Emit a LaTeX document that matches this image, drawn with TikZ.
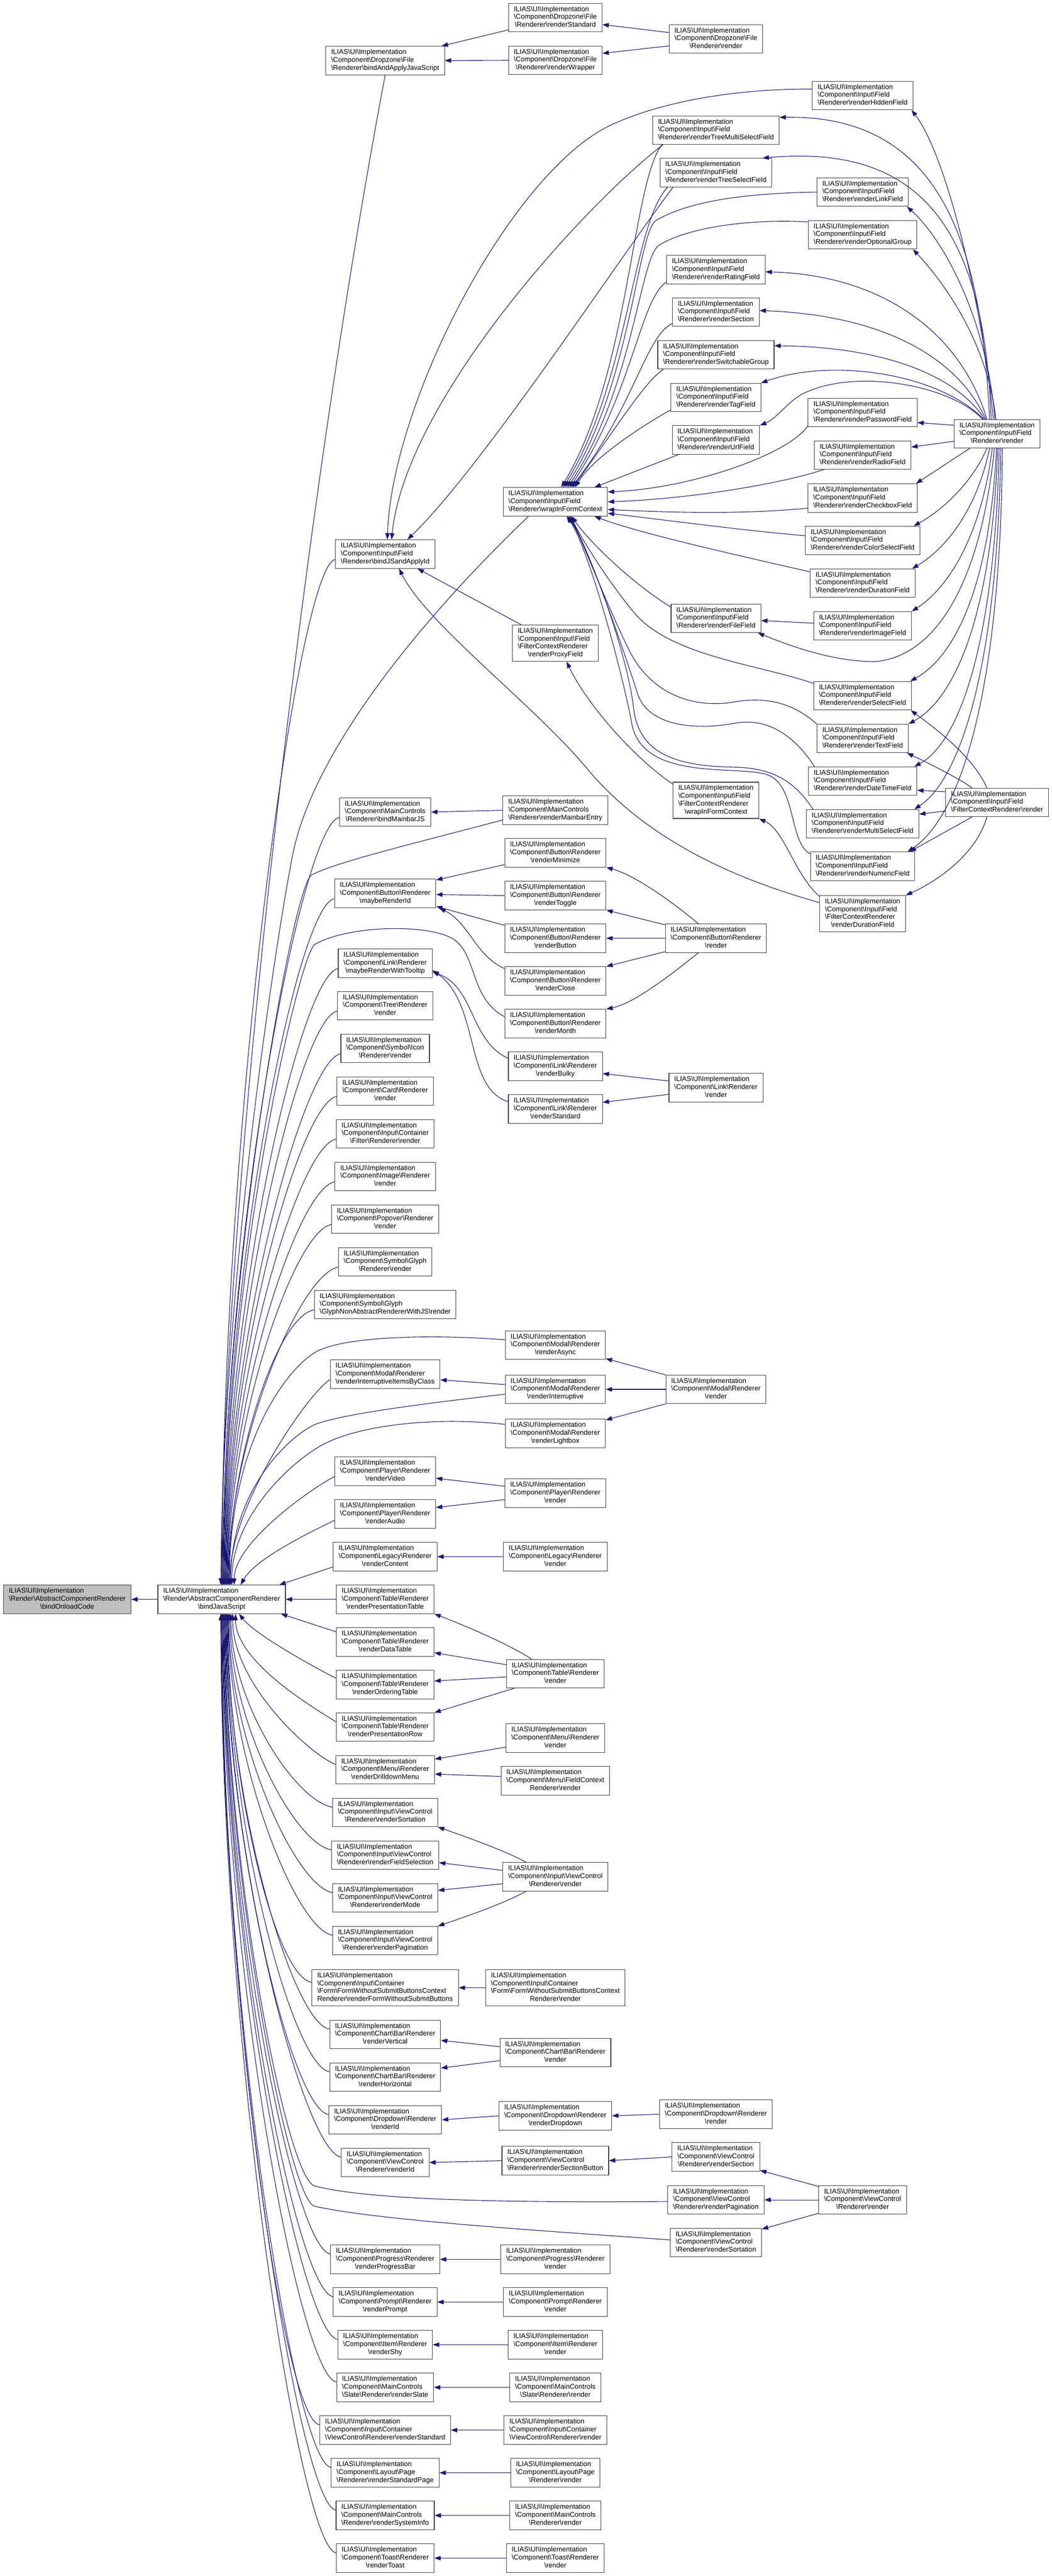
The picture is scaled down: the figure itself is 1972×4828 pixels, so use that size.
\documentclass[tikz,border=0pt]{standalone}
\usepackage{fontspec}
\setmainfont{Liberation Sans}
\usetikzlibrary{arrows.meta,calc}
\definecolor{eblue}{HTML}{191970}
\definecolor{nbord}{HTML}{404040}
\definecolor{rootfill}{HTML}{BFBFBF}
\newcommand\Q{\textbackslash}
\newcommand\IL{ILIAS\Q UI\Q Implementation}
\newcommand\lb[2]{\begin{tabular}{@{}l@{}}#1\\\multicolumn{1}{@{}c@{}}{#2}\end{tabular}}
\tikzset{
 box/.style={draw=nbord, line width=1.1pt, fill=white, inner xsep=10pt, inner ysep=4.6pt, font=\fontsize{13}{14.7}\selectfont},
 rootbox/.style={box, fill=rootfill},
 edge/.style={draw=eblue, line width=1.1pt, -{Triangle[length=12pt,width=8.5pt]}},
}
\newcommand\fanU[3]{\draw[edge] ($(#1.west)+(0,-10)$) .. controls ($(#1.west)+(-70,-22)$) and ($(bjs.north)+(#2,#3)$) .. ($(bjs.north)+(#2,0)$);}
\newcommand\fanD[3]{\draw[edge] ($(#1.west)+(0,10)$) .. controls ($(#1.west)+(-70,22)$) and ($(bjs.south)+(#2,-#3)$) .. ($(bjs.south)+(#2,0)$);}
\begin{document}
\begin{tikzpicture}[x=1pt,y=1pt]
\fill[white] (0,0) rectangle (1972,-4828);
\useasboundingbox (0,0) rectangle (1972,-4828);
% ---------- column 0 / 1
\node[rootbox] (root) at (126,-2997.5) {\lb{\IL\\\Q Render\Q AbstractComponentRenderer}{\Q bindOnloadCode}};
\node[box] (bjs) at (415.5,-2997.5) {\lb{\IL\\\Q Render\Q AbstractComponentRenderer}{\Q bindJavaScript}};
% ---------- column 2
\node[box] (n01) at (722,-113.5) {\lb{\IL\\\Q Component\Q Dropzone\Q File}{\Q Renderer\Q bindAndApplyJavaScript}};
\node[box] (n02) at (722,-1038.5) {\lb{\IL\\\Q Component\Q Input\Q Field}{\Q Renderer\Q bindJSandApplyId}};
\node[box] (n03) at (722,-1522) {\lb{\IL\\\Q Component\Q MainControls}{\Q Renderer\Q bindMainbarJS}};
\node[box] (n04) at (722,-1674.5) {\lb{\IL\\\Q Component\Q Button\Q Renderer}{\Q maybeRenderId}};
\node[box] (n05) at (722,-1805.5) {\lb{\IL\\\Q Component\Q Link\Q Renderer}{\Q maybeRenderWithTooltip}};
\node[box] (n06) at (722,-1885) {\lb{\IL\\\Q Component\Q Tree\Q Renderer}{\Q render}};
\node[box] (n07) at (722,-1965) {\lb{\IL\\\Q Component\Q Symbol\Q Icon}{\Q Renderer\Q render}};
\node[box] (n08) at (722,-2045) {\lb{\IL\\\Q Component\Q Card\Q Renderer}{\Q render}};
\node[box] (n09) at (722,-2125) {\lb{\IL\\\Q Component\Q Input\Q Container}{\Q Filter\Q Renderer\Q render}};
\node[box] (n10) at (722,-2205) {\lb{\IL\\\Q Component\Q Image\Q Renderer}{\Q render}};
\node[box] (n11) at (722,-2285) {\lb{\IL\\\Q Component\Q Popover\Q Renderer}{\Q render}};
\node[box] (n12) at (722,-2365) {\lb{\IL\\\Q Component\Q Symbol\Q Glyph}{\Q Renderer\Q render}};
\node[box] (n13) at (722,-2445) {\lb{\IL\\\Q Component\Q Symbol\Q Glyph}{\Q GlyphNonAbstractRendererWithJS\Q render}};
\node[box] (n14) at (722,-2575.5) {\lb{\IL\\\Q Component\Q Modal\Q Renderer}{\Q renderInterruptiveItemsByClass}};
\node[box] (n15) at (722,-2757.5) {\lb{\IL\\\Q Component\Q Player\Q Renderer}{\Q renderVideo}};
\node[box] (n16) at (722,-2837.5) {\lb{\IL\\\Q Component\Q Player\Q Renderer}{\Q renderAudio}};
\node[box] (n17) at (722,-2917.5) {\lb{\IL\\\Q Component\Q Legacy\Q Renderer}{\Q renderContent}};
\node[box] (n18) at (722,-2997.5) {\lb{\IL\\\Q Component\Q Table\Q Renderer}{\Q renderPresentationTable}};
\node[box] (n19) at (722,-3077.5) {\lb{\IL\\\Q Component\Q Table\Q Renderer}{\Q renderDataTable}};
\node[box] (n20) at (722,-3157.5) {\lb{\IL\\\Q Component\Q Table\Q Renderer}{\Q renderOrderingTable}};
\node[box] (n21) at (722,-3237) {\lb{\IL\\\Q Component\Q Table\Q Renderer}{\Q renderPresentationRow}};
\node[box] (n22) at (722,-3317) {\lb{\IL\\\Q Component\Q Menu\Q Renderer}{\Q renderDrilldownMenu}};
\node[box] (n23) at (722,-3397) {\lb{\IL\\\Q Component\Q Input\Q ViewControl}{\Q Renderer\Q renderSortation}};
\node[box] (n24) at (722,-3477) {\lb{\IL\\\Q Component\Q Input\Q ViewControl}{\Q Renderer\Q renderFieldSelection}};
\node[box] (n25) at (722,-3557) {\lb{\IL\\\Q Component\Q Input\Q ViewControl}{\Q Renderer\Q renderMode}};
\node[box] (n26) at (722,-3637) {\lb{\IL\\\Q Component\Q Input\Q ViewControl}{\Q Renderer\Q renderPagination}};
\node[box] (n27) at (722,-3725.5) {\lb{\IL\\\Q Component\Q Input\Q Container\\\Q Form\Q FormWithoutSubmitButtonsContext}{Renderer\Q renderFormWithoutSubmitButtons}};
\node[box] (n28) at (722,-3813) {\lb{\IL\\\Q Component\Q Chart\Q Bar\Q Renderer}{\Q renderVertical}};
\node[box] (n29) at (722,-3893) {\lb{\IL\\\Q Component\Q Chart\Q Bar\Q Renderer}{\Q renderHorizontal}};
\node[box] (n30) at (722,-3973) {\lb{\IL\\\Q Component\Q Dropdown\Q Renderer}{\Q renderId}};
\node[box] (n31) at (722,-4053) {\lb{\IL\\\Q Component\Q ViewControl}{\Q Renderer\Q renderId}};
\node[box] (n32) at (722,-4234.5) {\lb{\IL\\\Q Component\Q Progress\Q Renderer}{\Q renderProgressBar}};
\node[box] (n33) at (722,-4314.5) {\lb{\IL\\\Q Component\Q Prompt\Q Renderer}{\Q renderPrompt}};
\node[box] (n34) at (722,-4394.5) {\lb{\IL\\\Q Component\Q Item\Q Renderer}{\Q renderShy}};
\node[box] (n35) at (722,-4474.5) {\lb{\IL\\\Q Component\Q MainControls}{\Q Slate\Q Renderer\Q renderSlate}};
\node[box] (n36) at (722,-4554.5) {\lb{\IL\\\Q Component\Q Input\Q Container}{\Q ViewControl\Q Renderer\Q renderStandard}};
\node[box] (n37) at (722,-4634.5) {\lb{\IL\\\Q Component\Q Layout\Q Page}{\Q Renderer\Q renderStandardPage}};
\node[box] (n38) at (722,-4714.5) {\lb{\IL\\\Q Component\Q MainControls}{\Q Renderer\Q renderSystemInfo}};
\node[box] (n39) at (722,-4794.5) {\lb{\IL\\\Q Component\Q Toast\Q Renderer}{\Q renderToast}};
% ---------- column 3
\node[box] (m01) at (1041,-33) {\lb{\IL\\\Q Component\Q Dropzone\Q File}{\Q Renderer\Q renderStandard}};
\node[box] (m02) at (1041,-113) {\lb{\IL\\\Q Component\Q Dropzone\Q File}{\Q Renderer\Q renderWrapper}};
\node[box] (m03) at (1041,-940.5) {\lb{\IL\\\Q Component\Q Input\Q Field}{\Q Renderer\Q wrapInFormContext}};
\node[box] (m04) at (1041,-1205.5) {\lb{\IL\\\Q Component\Q Input\Q Field\\\Q FilterContextRenderer}{\Q renderProxyField}};
\node[box] (m05) at (1041,-1518.5) {\lb{\IL\\\Q Component\Q MainControls}{\Q Renderer\Q renderMainbarEntry}};
\node[box] (m06) at (1041,-1598.5) {\lb{\IL\\\Q Component\Q Button\Q Renderer}{\Q renderMinimize}};
\node[box] (m07) at (1041,-1678.5) {\lb{\IL\\\Q Component\Q Button\Q Renderer}{\Q renderToggle}};
\node[box] (m08) at (1041,-1758.5) {\lb{\IL\\\Q Component\Q Button\Q Renderer}{\Q renderButton}};
\node[box] (m09) at (1041,-1838.5) {\lb{\IL\\\Q Component\Q Button\Q Renderer}{\Q renderClose}};
\node[box] (m10) at (1041,-1918.5) {\lb{\IL\\\Q Component\Q Button\Q Renderer}{\Q renderMonth}};
\node[box] (m11) at (1041,-1998.5) {\lb{\IL\\\Q Component\Q Link\Q Renderer}{\Q renderBulky}};
\node[box] (m12) at (1041,-2078.5) {\lb{\IL\\\Q Component\Q Link\Q Renderer}{\Q renderStandard}};
\node[box] (m13) at (1041,-2521) {\lb{\IL\\\Q Component\Q Modal\Q Renderer}{\Q renderAsync}};
\node[box] (m14) at (1041,-2604) {\lb{\IL\\\Q Component\Q Modal\Q Renderer}{\Q renderInterruptive}};
\node[box] (m15) at (1041,-2686.5) {\lb{\IL\\\Q Component\Q Modal\Q Renderer}{\Q renderLightbox}};
\node[box] (m16) at (1041,-2798.5) {\lb{\IL\\\Q Component\Q Player\Q Renderer}{\Q render}};
\node[box] (m17) at (1041,-2917.5) {\lb{\IL\\\Q Component\Q Legacy\Q Renderer}{\Q render}};
\node[box] (m18) at (1041,-3137) {\lb{\IL\\\Q Component\Q Table\Q Renderer}{\Q render}};
\node[box] (m19) at (1041,-3257.5) {\lb{\IL\\\Q Component\Q Menu\Q Renderer}{\Q render}};
\node[box] (m20) at (1041,-3337.5) {\lb{\IL\\\Q Component\Q Menu\Q FieldContext}{Renderer\Q render}};
\node[box] (m21) at (1041,-3517.5) {\lb{\IL\\\Q Component\Q Input\Q ViewControl}{\Q Renderer\Q render}};
\node[box] (m22) at (1041,-3725.5) {\lb{\IL\\\Q Component\Q Input\Q Container\\\Q Form\Q FormWithoutSubmitButtonsContext}{Renderer\Q render}};
\node[box] (m23) at (1041,-3847) {\lb{\IL\\\Q Component\Q Chart\Q Bar\Q Renderer}{\Q render}};
\node[box] (m24) at (1041,-3965.5) {\lb{\IL\\\Q Component\Q Dropdown\Q Renderer}{\Q renderDropdown}};
\node[box] (m25) at (1041,-4049.5) {\lb{\IL\\\Q Component\Q ViewControl}{\Q Renderer\Q renderSectionButton}};
\node[box] (m26) at (1041,-4234.5) {\lb{\IL\\\Q Component\Q Progress\Q Renderer}{\Q render}};
\node[box] (m27) at (1041,-4314.5) {\lb{\IL\\\Q Component\Q Prompt\Q Renderer}{\Q render}};
\node[box] (m28) at (1041,-4394.5) {\lb{\IL\\\Q Component\Q Item\Q Renderer}{\Q render}};
\node[box] (m29) at (1041,-4474.5) {\lb{\IL\\\Q Component\Q MainControls}{\Q Slate\Q Renderer\Q render}};
\node[box] (m30) at (1041,-4554.5) {\lb{\IL\\\Q Component\Q Input\Q Container}{\Q ViewControl\Q Renderer\Q render}};
\node[box] (m31) at (1041,-4634.5) {\lb{\IL\\\Q Component\Q Layout\Q Page}{\Q Renderer\Q render}};
\node[box] (m32) at (1041,-4714.5) {\lb{\IL\\\Q Component\Q MainControls}{\Q Renderer\Q render}};
\node[box] (m33) at (1041,-4794.5) {\lb{\IL\\\Q Component\Q Toast\Q Renderer}{\Q render}};
% ---------- column 4
\node[box] (k01) at (1342,-73) {\lb{\IL\\\Q Component\Q Dropzone\Q File}{\Q Renderer\Q render}};
\node[box] (k02) at (1342,-244) {\lb{\IL\\\Q Component\Q Input\Q Field}{\Q Renderer\Q renderTreeMultiSelectField}};
\node[box] (k03) at (1342,-323.5) {\lb{\IL\\\Q Component\Q Input\Q Field}{\Q Renderer\Q renderTreeSelectField}};
\node[box] (k04) at (1342,-505.5) {\lb{\IL\\\Q Component\Q Input\Q Field}{\Q Renderer\Q renderRatingField}};
\node[box] (k05) at (1342,-585) {\lb{\IL\\\Q Component\Q Input\Q Field}{\Q Renderer\Q renderSection}};
\node[box] (k06) at (1342,-665) {\lb{\IL\\\Q Component\Q Input\Q Field}{\Q Renderer\Q renderSwitchableGroup}};
\node[box] (k07) at (1342,-745) {\lb{\IL\\\Q Component\Q Input\Q Field}{\Q Renderer\Q renderTagField}};
\node[box] (k08) at (1342,-824.5) {\lb{\IL\\\Q Component\Q Input\Q Field}{\Q Renderer\Q renderUrlField}};
\node[box] (k09) at (1342,-1159) {\lb{\IL\\\Q Component\Q Input\Q Field}{\Q Renderer\Q renderFileField}};
\node[box] (k10) at (1342,-1500) {\lb{\IL\\\Q Component\Q Input\Q Field\\\Q FilterContextRenderer}{\Q wrapInFormContext}};
\node[box] (k11) at (1342,-1758.5) {\lb{\IL\\\Q Component\Q Button\Q Renderer}{\Q render}};
\node[box] (k12) at (1342,-2038.5) {\lb{\IL\\\Q Component\Q Link\Q Renderer}{\Q render}};
\node[box] (k13) at (1342,-2604) {\lb{\IL\\\Q Component\Q Modal\Q Renderer}{\Q render}};
\node[box] (k14) at (1342,-3962.5) {\lb{\IL\\\Q Component\Q Dropdown\Q Renderer}{\Q render}};
\node[box] (k15) at (1342,-4042.5) {\lb{\IL\\\Q Component\Q ViewControl}{\Q Renderer\Q renderSection}};
\node[box] (k16) at (1342,-4123) {\lb{\IL\\\Q Component\Q ViewControl}{\Q Renderer\Q renderPagination}};
\node[box] (k17) at (1342,-4203) {\lb{\IL\\\Q Component\Q ViewControl}{\Q Renderer\Q renderSortation}};
% ---------- column 5
\node[box] (p01) at (1617,-179) {\lb{\IL\\\Q Component\Q Input\Q Field}{\Q Renderer\Q renderHiddenField}};
\node[box] (p02) at (1617,-360) {\lb{\IL\\\Q Component\Q Input\Q Field}{\Q Renderer\Q renderLinkField}};
\node[box] (p03) at (1617,-440) {\lb{\IL\\\Q Component\Q Input\Q Field}{\Q Renderer\Q renderOptionalGroup}};
\node[box] (p04) at (1617,-773) {\lb{\IL\\\Q Component\Q Input\Q Field}{\Q Renderer\Q renderPasswordField}};
\node[box] (p05) at (1617,-853) {\lb{\IL\\\Q Component\Q Input\Q Field}{\Q Renderer\Q renderRadioField}};
\node[box] (p06) at (1617,-933.5) {\lb{\IL\\\Q Component\Q Input\Q Field}{\Q Renderer\Q renderCheckboxField}};
\node[box] (p07) at (1617,-1013) {\lb{\IL\\\Q Component\Q Input\Q Field}{\Q Renderer\Q renderColorSelectField}};
\node[box] (p08) at (1617,-1093) {\lb{\IL\\\Q Component\Q Input\Q Field}{\Q Renderer\Q renderDurationField}};
\node[box] (p09) at (1617,-1173) {\lb{\IL\\\Q Component\Q Input\Q Field}{\Q Renderer\Q renderImageField}};
\node[box] (p10) at (1617,-1304) {\lb{\IL\\\Q Component\Q Input\Q Field}{\Q Renderer\Q renderSelectField}};
\node[box] (p11) at (1617,-1384) {\lb{\IL\\\Q Component\Q Input\Q Field}{\Q Renderer\Q renderTextField}};
\node[box] (p12) at (1617,-1464) {\lb{\IL\\\Q Component\Q Input\Q Field}{\Q Renderer\Q renderDateTimeField}};
\node[box] (p13) at (1617,-1544) {\lb{\IL\\\Q Component\Q Input\Q Field}{\Q Renderer\Q renderMultiSelectField}};
\node[box] (p14) at (1617,-1623.5) {\lb{\IL\\\Q Component\Q Input\Q Field}{\Q Renderer\Q renderNumericField}};
\node[box] (p15) at (1617,-1712.5) {\lb{\IL\\\Q Component\Q Input\Q Field\\\Q FilterContextRenderer}{\Q renderDurationField}};
\node[box] (p16) at (1617,-4123) {\lb{\IL\\\Q Component\Q ViewControl}{\Q Renderer\Q render}};
% ---------- column 6
\node[box] (q01) at (1869,-813) {\lb{\IL\\\Q Component\Q Input\Q Field}{\Q Renderer\Q render}};
\node[box] (q02) at (1869,-1504) {\lb{\IL\\\Q Component\Q Input\Q Field}{\Q FilterContextRenderer\Q render}};

% ================= edges
\draw[edge] (bjs.west) -- (root.east);
% --- fan into bindJavaScript from above
\draw[edge] (n01.south) .. controls (560,-1000) and (419,-2270) .. ($(bjs.north)+(-1.5,0)$);
\draw[edge] ($(m03.south west)+(48,0)$) .. controls (800,-1150) and (590,-1400) .. (549,-1600) .. controls (510,-1800) and (415,-2450) .. ($(bjs.north)+(-0.5,0)$);
\fanU{n02}{0.5}{860}
\draw[edge] ($(m05.south west)+(0,9)$) .. controls (800,-1575) and (630,-1615) .. (584,-1640) .. controls (548,-1660) and (418,-2400) .. ($(bjs.north)+(1.5,0)$);
\fanU{n03}{2.5}{650}
\fanU{n04}{3.5}{580}
\draw[edge] ($(m10.west)+(0,13)$) .. controls (880,-1870) and (895,-1790) .. (850,-1760) .. controls (800,-1730) and (650,-1735) .. (590,-1770) .. controls (560,-1790) and (420,-2400) .. ($(bjs.north)+(4.5,0)$);
\fanU{n05}{5.5}{520}
\fanU{n06}{6.5}{480}
\fanU{n07}{7.5}{450}
\fanU{n08}{8.5}{410}
\fanU{n09}{9.5}{375}
\fanU{n10}{10.5}{340}
\fanU{n11}{11.5}{300}
\fanU{n12}{12.5}{270}
\fanU{n13}{13.5}{230}
\draw[edge] ($(m13.west)+(0,10)$) .. controls (800,-2500) and (640,-2505) .. (590,-2535) .. controls (540,-2565) and (431,-2700) .. ($(bjs.north)+(14.5,0)$);
\draw[edge] ($(n14.west)+(0,-10)$) .. controls ($(n14.west)+(-40,-35)$) and ($(bjs.north)+(15.5,150)$) .. ($(bjs.north)+(15.5,0)$);
\draw[edge] ($(m14.west)+(0,-9)$) .. controls (800,-2630) and (640,-2650) .. (590,-2670) .. controls (545,-2690) and (433,-2790) .. ($(bjs.north)+(17,0)$);
\draw[edge] ($(m15.west)+(0,17)$) .. controls (820,-2655) and (680,-2670) .. (610,-2705) .. controls (550,-2735) and (435,-2840) .. ($(bjs.north)+(19,0)$);
\draw[edge] ($(n15.west)+(0,-10)$) .. controls ($(n15.west)+(-40,-30)$) and ($(bjs.north)+(23.5,80)$) .. ($(bjs.north)+(23.5,0)$);
\draw[edge] ($(n16.west)+(0,-12)$) .. controls (585,-2870) and (480,-2920) .. ($(bjs.north)+(35.5,0)$);
\draw[edge] ($(n17.south west)+(0,8)$) -- ($(bjs.north east)+(-12,0)$);
% --- horizontal
\draw[edge] (n18.west) -- (bjs.east);
% --- fan into bindJavaScript from below
\draw[edge] ($(n19.north west)+(0,-8)$) -- ($(bjs.south east)+(-9,0)$);
\draw[edge] ($(n20.west)+(0,12)$) .. controls (590,-3125) and (480,-3065) .. ($(bjs.south)+(32.5,0)$);
\draw[edge] ($(n21.west)+(0,10)$) .. controls ($(n21.west)+(-40,35)$) and ($(bjs.south)+(26,-90)$) .. ($(bjs.south)+(26,0)$);
\draw[edge] ($(n22.west)+(0,10)$) .. controls ($(n22.west)+(-50,30)$) and ($(bjs.south)+(20.5,-130)$) .. ($(bjs.south)+(20.5,0)$);
\fanD{n23}{17.5}{165}
\fanD{n24}{15.5}{200}
\fanD{n25}{13.5}{235}
\fanD{n26}{12.5}{270}
\fanD{n27}{11.5}{310}
\fanD{n28}{10.5}{350}
\fanD{n29}{9.5}{385}
\fanD{n30}{8.5}{420}
\fanD{n31}{7.5}{455}
\draw[edge] ($(k16.west)+(0,-3)$) .. controls (1000,-4128) and (700,-4126) .. (590,-4097) .. controls (535,-4082) and (422,-3480) .. ($(bjs.south)+(6.5,0)$);
\draw[edge] ($(k17.west)+(0,5)$) .. controls (1000,-4180) and (700,-4160) .. (590,-4135) .. controls (540,-4124) and (421,-3500) .. ($(bjs.south)+(5.5,0)$);
\fanD{n32}{4.5}{540}
\fanD{n33}{3.5}{575}
\fanD{n34}{2.5}{610}
\fanD{n35}{1.5}{650}
\fanD{n36}{0.5}{685}
\fanD{n37}{-0.5}{720}
\fanD{n38}{-1}{755}
\fanD{n39}{-1.5}{790}
% --- Dropzone
\draw[edge] ($(k01.west)+(0,12)$) -- ($(m01.east)+(0,-13)$);
\draw[edge] ($(k01.west)+(0,-13)$) -- ($(m02.east)+(0,13)$);
\draw[edge] ($(m01.west)+(0,-23)$) -- ($(n01.north east)+(-6,0)$);
\draw[edge] (m02.west) -- (n01.east);
% --- bindJSandApplyId callers
\draw[edge] ($(p01.west)+(0,12)$) .. controls (1400,-166) and (1250,-185) .. (1144,-235) .. controls (960,-322) and (735,-750) .. ($(n02.north)+(4,0)$);
\draw[edge] ($(k02.south west)+(20,0)$) .. controls (1100,-380) and (760,-750) .. ($(n02.north)+(12,0)$);
\draw[edge] ($(k03.south west)+(25,0)$) .. controls (1150,-500) and (900,-880) .. ($(n02.north east)+(-52,0)$);
\draw[edge] ($(m04.north west)+(17,0)$) -- ($(n02.south east)+(-33,0)$);
\draw[edge] ($(p15.west)+(0,21)$) .. controls (1350,-1640) and (1200,-1560) .. (1100,-1440) .. controls (1000,-1320) and (800,-1170) .. ($(n02.south)+(26,0)$);
% --- wrapInFormContext callers (from above)
\draw[edge] ($(k02.south west)+(18,0)$) .. controls (1185,-340) and (1180,-700) .. ($(m03.north)+(11,0)$);
\draw[edge] ($(k03.south west)+(15,0)$) .. controls (1185,-420) and (1180,-710) .. ($(m03.north)+(15,0)$);
\draw[edge] (p02.west) .. controls (1420,-362) and (1300,-372) .. (1230,-413) .. controls (1195,-434) and (1183,-720) .. ($(m03.north)+(19,0)$);
\draw[edge] ($(p03.west)+(0,24)$) .. controls (1410,-410) and (1290,-425) .. (1235,-460) .. controls (1200,-482) and (1186,-730) .. ($(m03.north)+(23,0)$);
\draw[edge] ($(k04.south west)+(0,4)$) .. controls (1200,-560) and (1185,-740) .. ($(m03.north)+(27,0)$);
\draw[edge] ($(k05.south west)+(0,6)$) .. controls (1210,-630) and (1190,-760) .. ($(m03.north)+(30,0)$);
\draw[edge] ($(k06.south west)+(11,0)$) .. controls (1210,-715) and (1170,-780) .. ($(m03.north)+(33,0)$);
\draw[edge] ($(k07.south west)+(0,4)$) .. controls (1200,-800) and (1110,-860) .. ($(m03.north)+(37,0)$);
\draw[edge] ($(k08.south west)+(13,0)$) -- ($(m03.north east)+(-25,0)$);
% --- wrapInFormContext callers (right)
\draw[edge] ($(p04.south west)+(0,2)$) .. controls (1480,-850) and (1300,-915) .. ($(m03.east)+(0,18.5)$);
\draw[edge] ($(p05.south west)+(18,0)$) .. controls (1470,-905) and (1300,-935) .. (m03.east);
\draw[edge] ($(p06.west)+(0,-19)$) .. controls (1380,-965) and (1250,-960) .. ($(m03.east)+(0,-14.5)$);
\draw[edge] ($(p07.west)+(0,9)$) .. controls (1400,-995) and (1250,-975) .. ($(m03.east)+(0,-21.5)$);
\draw[edge] ($(p08.north west)+(0,-6)$) .. controls (1380,-1040) and (1200,-1000) .. ($(m03.south east)+(-25,0)$);
% --- wrapInFormContext callers (below)
\draw[edge] ($(k09.north west)+(0,-6)$) .. controls (1180,-1090) and (1100,-1010) .. ($(m03.south)+(31,0)$);
\draw[edge] ($(p10.north west)+(0,-4)$) .. controls (1420,-1245) and (1260,-1230) .. (1190,-1150) .. controls (1140,-1090) and (1090,-1010) .. ($(m03.south)+(29,0)$);
\draw[edge] ($(p11.west)+(0,27)$) .. controls (1490,-1320) and (1440,-1305) .. (1380,-1315) .. controls (1300,-1330) and (1220,-1300) .. (1180,-1220) .. controls (1140,-1140) and (1090,-1010) .. ($(m03.south)+(27,0)$);
\draw[edge] ($(p12.north west)+(12,0)$) .. controls (1490,-1380) and (1440,-1345) .. (1380,-1355) .. controls (1300,-1370) and (1215,-1360) .. (1195,-1300) .. controls (1170,-1220) and (1100,-1020) .. ($(m03.south)+(25,0)$);
\draw[edge] ($(p13.north west)+(13,0)$) .. controls (1490,-1465) and (1450,-1440) .. (1380,-1438) .. controls (1280,-1436) and (1200,-1420) .. (1188,-1330) .. controls (1176,-1220) and (1100,-1020) .. ($(m03.south)+(23,0)$);
\draw[edge] ($(p14.north west)+(0,-4)$) .. controls (1480,-1580) and (1492,-1480) .. (1445,-1455) .. controls (1400,-1430) and (1210,-1470) .. (1185,-1360) .. controls (1165,-1250) and (1100,-1020) .. ($(m03.south)+(21,0)$);
% --- filter context
\draw[edge] ($(k10.north west)+(0,-4)$) .. controls (1190,-1422) and (1100,-1320) .. ($(m04.south)+(21,0)$);
\draw[edge] ($(p15.north west)+(0,-2)$) .. controls (1490,-1640) and (1470,-1555) .. (k10.south east);
\draw[edge] ($(p09.west)+(0,5)$) -- ($(k09.east)+(0,-4)$);
% --- Input Field Renderer render
\draw[edge] ($(q01.north)+(-7,0)$) .. controls (1845,-600) and (1780,-300) .. ($(p01.south east)+(-3,0)$);
\draw[edge] ($(q01.north)+(-14,0)$) .. controls (1840,-450) and (1760,-215) .. ($(k02.east)+(0,24)$);
\draw[edge] ($(q01.north)+(-11,0)$) .. controls (1845,-420) and (1720,-270) .. ($(k03.north east)+(-18,0)$);
\draw[edge] ($(q01.north)+(-4,0)$) .. controls (1850,-600) and (1770,-450) .. ($(p02.south east)+(-3,0)$);
\draw[edge] ($(q01.north)+(-2,0)$) .. controls (1850,-640) and (1770,-530) .. ($(p03.south east)+(-8,0)$);
\draw[edge] ($(q01.north)+(-19,0)$) .. controls (1800,-620) and (1650,-515) .. ($(k04.east)+(0,-4)$);
\draw[edge] ($(q01.north)+(-21,0)$) .. controls (1790,-660) and (1640,-590) .. ($(k05.east)+(0,3)$);
\draw[edge] ($(q01.north)+(-23,0)$) .. controls (1790,-700) and (1650,-650) .. ($(k06.east)+(0,17)$);
\draw[edge] ($(q01.north)+(-25,0)$) .. controls (1760,-700) and (1560,-670) .. (k07.north east);
\draw[edge] ($(q01.north)+(-27,0)$) .. controls (1780,-720) and (1600,-690) .. (1505,-738) .. controls (1480,-750) and (1455,-785) .. (k08.north east);
\draw[edge] ($(q01.west)+(0,16)$) -- ($(p04.east)+(0,-19)$);
\draw[edge] ($(q01.west)+(0,-14)$) -- ($(p05.east)+(0,15)$);
\draw[edge] ($(q01.south west)+(30,0)$) -- ($(p06.north east)+(-3,0)$);
\draw[edge] ($(q01.south)+(-19,0)$) .. controls (1820,-910) and (1760,-960) .. ($(p07.north east)+(-12,0)$);
\draw[edge] ($(q01.south)+(-14,0)$) .. controls (1830,-960) and (1770,-1030) .. ($(p08.north east)+(-6,0)$);
\draw[edge] ($(q01.south)+(-9,0)$) .. controls (1840,-1000) and (1780,-1100) .. (p09.north east);
\draw[edge] ($(q01.south)+(-5,0)$) .. controls (1840,-1080) and (1760,-1230) .. (1640,-1240) .. controls (1560,-1240) and (1480,-1210) .. ($(k09.south east)+(-6,0)$);
\draw[edge] ($(q01.south)+(-1,0)$) .. controls (1855,-1100) and (1790,-1230) .. ($(p10.north east)+(-3,0)$);
\draw[edge] ($(q01.south)+(1,0)$) .. controls (1860,-1150) and (1790,-1310) .. (p11.north east);
\draw[edge] ($(q01.south)+(4,0)$) .. controls (1865,-1200) and (1800,-1390) .. ($(p12.north east)+(-5,0)$);
\draw[edge] ($(q01.south)+(7,0)$) .. controls (1870,-1250) and (1800,-1460) .. ($(p13.north east)+(-9,0)$);
\draw[edge] ($(q01.south)+(10,0)$) .. controls (1876,-1300) and (1800,-1530) .. ($(p14.north east)+(-14,0)$);
% --- FilterContextRenderer render
\draw[edge] ($(q02.north)+(-19,0)$) .. controls (1825,-1420) and (1760,-1370) .. ($(p10.south east)+(-2,0)$);
\draw[edge] ($(q02.north west)+(50,0)$) .. controls (1800,-1460) and (1740,-1430) .. ($(p11.south east)+(-3,0)$);
\draw[edge] ($(q02.west)+(0,20)$) -- ($(p12.east)+(0,-17)$);
\draw[edge] ($(q02.west)+(0,-16)$) -- ($(p13.east)+(0,18)$);
\draw[edge] ($(q02.south west)+(50,0)$) -- ($(p14.north east)+(-10,0)$);
\draw[edge] ($(q02.south)+(-19,0)$) .. controls (1830,-1600) and (1760,-1650) .. (p15.north east);
% --- MainControls
\draw[edge] (m05.west) -- (n03.east);
% --- Button
\draw[edge] ($(m06.west)+(0,-22)$) -- ($(n04.north east)+(0,-2)$);
\draw[edge] (m07.west) -- ($(n04.east)+(0,-2)$);
\draw[edge] ($(m08.north west)+(0,-3)$) -- ($(n04.south east)+(0,3)$);
\draw[edge] ($(m09.north west)+(0,-4)$) .. controls (890,-1790) and (880,-1730) .. ($(n04.south east)+(6,0)$);
\draw[edge] ($(k11.north)+(-33,0)$) .. controls (1260,-1690) and (1190,-1640) .. (m06.south east);
\draw[edge] ($(k11.north west)+(0,-2)$) -- (m07.south east);
\draw[edge] (k11.west) -- (m08.east);
\draw[edge] ($(k11.south west)+(0,2)$) -- (m09.north east);
\draw[edge] ($(k11.south)+(-33,0)$) .. controls (1260,-1825) and (1190,-1880) .. (m10.north east);
% --- Link
\draw[edge] ($(m11.west)+(0,15)$) .. controls (880,-1950) and (890,-1850) .. ($(n05.east)+(0,-16)$);
\draw[edge] ($(m12.west)+(0,14)$) .. controls (870,-2040) and (900,-1880) .. ($(n05.east)+(0,-13)$);
\draw[edge] ($(k12.west)+(0,12.5)$) -- ($(m11.east)+(0,-13.5)$);
\draw[edge] ($(k12.west)+(0,-12.5)$) -- ($(m12.east)+(0,12.5)$);
% --- Modal
\draw[edge] (k13.north west) -- ($(m13.south east)+(0,2)$);
\draw[edge] (k13.west) -- (m14.east);
\draw[edge] (k13.south west) -- ($(m15.north east)+(0,-2)$);
\draw[edge] ($(m14.west)+(0,9)$) -- ($(n14.east)+(0,-10.5)$);
% --- Player, Legacy, Table
\draw[edge] ($(m16.west)+(0,13)$) -- ($(n15.east)+(0,-13)$);
\draw[edge] ($(m16.west)+(0,-12)$) -- ($(n16.east)+(0,12)$);
\draw[edge] (m17.west) -- (n17.east);
\draw[edge] ($(m18.north west)+(48,0)$) .. controls (960,-3085) and (880,-3050) .. (n18.south east);
\draw[edge] ($(m18.west)+(0,17)$) -- ($(n19.east)+(0,-20)$);
\draw[edge] ($(m18.west)+(0,-6)$) -- ($(n20.east)+(0,7)$);
\draw[edge] ($(m18.south west)+(15,0)$) -- (n21.north east);
% --- Menu
\draw[edge] ($(m19.west)+(0,-17)$) -- ($(n22.east)+(0,20)$);
\draw[edge] ($(m20.west)+(0,8)$) -- ($(n22.east)+(0,-8)$);
% --- Input ViewControl
\draw[edge] ($(m21.north west)+(44,0)$) .. controls (950,-3470) and (880,-3445) .. (n23.south east);
\draw[edge] ($(m21.west)+(0,12)$) -- ($(n24.east)+(0,-14)$);
\draw[edge] ($(m21.west)+(0,-13)$) -- ($(n25.east)+(0,14)$);
\draw[edge] ($(m21.south west)+(44,0)$) .. controls (950,-3565) and (880,-3590) .. (n26.north east);
% --- Form, Chart, Dropdown, ViewControl
\draw[edge] (m22.west) -- (n27.east);
\draw[edge] ($(m23.west)+(0,11)$) -- ($(n28.east)+(0,-11)$);
\draw[edge] ($(m23.west)+(0,-15)$) -- ($(n29.east)+(0,17)$);
\draw[edge] (m24.west) -- (n30.east);
\draw[edge] (k14.west) -- (m24.east);
\draw[edge] (m25.west) -- (n31.east);
\draw[edge] (k15.west) -- (m25.east);
\draw[edge] ($(p16.north west)+(0,-2)$) -- ($(k15.south east)+(0,2)$);
\draw[edge] (p16.west) -- (k16.east);
\draw[edge] ($(p16.south west)+(0,2)$) -- ($(k17.north east)+(0,-2)$);
% --- lower simple pairs
\draw[edge] (m26.west) -- (n32.east);
\draw[edge] (m27.west) -- (n33.east);
\draw[edge] (m28.west) -- (n34.east);
\draw[edge] (m29.west) -- (n35.east);
\draw[edge] (m30.west) -- (n36.east);
\draw[edge] (m31.west) -- (n37.east);
\draw[edge] (m32.west) -- (n38.east);
\draw[edge] (m33.west) -- (n39.east);
\end{tikzpicture}
\end{document}
